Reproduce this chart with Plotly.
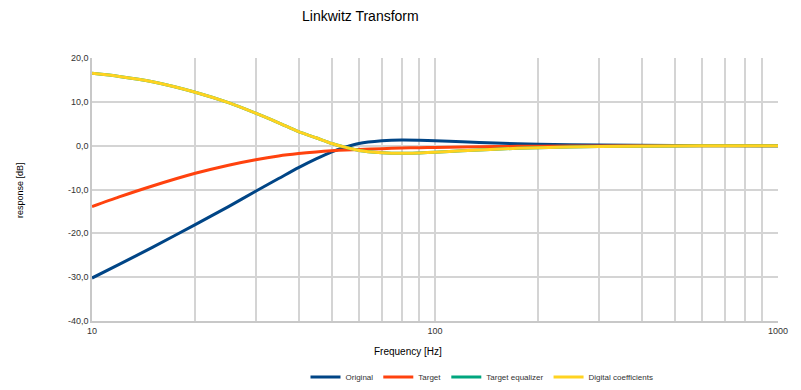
import plotly.graph_objects as go

freq = [10, 12, 15, 20, 25, 30, 35, 40, 45, 50, 55, 60, 70, 80, 90, 100, 120, 150, 200, 300, 500, 700, 1000]
original = [-30.2, -27.1, -23.2, -18.0, -13.9, -10.4, -7.5, -5.0, -3.0, -1.4, -0.3, 0.5, 1.1, 1.3, 1.25, 1.15, 0.9, 0.6, 0.35, 0.15, 0.05, 0.02, 0.0]
target = [-13.9, -11.7, -9.2, -6.3, -4.45, -3.2, -2.35, -1.8, -1.42, -1.15, -0.98, -0.86, -0.68, -0.55, -0.46, -0.4, -0.3, -0.2, -0.12, -0.05, -0.02, -0.01, 0.0]
target_eq = [16.5, 15.8, 14.6, 12.2, 9.8, 7.4, 5.2, 3.2, 1.8, 0.5, -0.4, -1.1, -1.6, -1.75, -1.65, -1.5, -1.15, -0.8, -0.45, -0.2, -0.07, -0.03, 0.0]
digital = [16.5, 15.8, 14.6, 12.2, 9.8, 7.4, 5.2, 3.2, 1.8, 0.5, -0.4, -1.1, -1.6, -1.75, -1.65, -1.5, -1.15, -0.8, -0.45, -0.2, -0.07, -0.03, 0.0]

y_ticks = [-40, -30, -20, -10, 0, 10, 20]
y_labels = ["-40,0", "-30,0", "-20,0", "-10,0", "0,0", "10,0", "20,0"]
x_ticks = [10, 20, 30, 40, 50, 60, 70, 80, 90, 100, 200, 300, 400, 500, 600, 700, 800, 900, 1000]
x_labels = ["10", "", "", "", "", "", "", "", "", "100", "", "", "", "", "", "", "", "", "1000"]

series = [
    ("Original", original, "#004586"),
    ("Target", target, "#ff420e"),
    ("Target equalizer", target_eq, "#00a67e"),
    ("Digital coefficients", digital, "#ffd320"),
]

# page body has an 8px margin; figure placed at (8,8)
OFF = 8
W, H = 801 - OFF, 390 - OFF
pl, pr, pt, pb = 92 - OFF, 23, 58 - OFF, 69
pw, ph = W - pl - pr, H - pt - pb


def px_to_paper(px, py):
    return (px - OFF - pl) / pw, (H - pb - (py - OFF)) / ph


fig = go.Figure()
for name, vals, col in series:
    fig.add_trace(go.Scatter(x=freq, y=vals, name=name, mode="lines",
                             line=dict(color=col, width=3, shape="spline", smoothing=0.7)))

font = "Liberation Sans, Arial, sans-serif"
lx, ly = px_to_paper(482, 377)
anns = []
for text, x, y, size, ang in [("Linkwitz Transform", 360, 16, 14, 0),
                              ("Frequency [Hz]", 408, 351, 10, 0),
                              ("response [dB]", 20, 190, 9, -90)]:
    ax, ay = px_to_paper(x, y)
    anns.append(dict(text=text, x=ax, y=ay, xref="paper", yref="paper",
                     xanchor="center", yanchor="middle", showarrow=False,
                     textangle=ang, font=dict(size=size, color="#000000")))

fig.update_layout(
    width=W, height=H,
    margin=dict(l=pl, r=pr, t=pt, b=pb, autoexpand=False),
    paper_bgcolor="white", plot_bgcolor="white",
    font=dict(family=font, size=9, color="#333333"),
    showlegend=True,
    legend=dict(orientation="h", x=lx, xanchor="center", y=ly, yanchor="middle",
                font=dict(size=8, color="#333333"), itemwidth=30),
    xaxis=dict(type="log", range=[1, 3], tickvals=x_ticks, ticktext=x_labels,
               showgrid=True, gridcolor="#d4d4d4", gridwidth=1.5,
               showline=True, linecolor="#c8c8c8", linewidth=1.5,
               ticks="", tickfont=dict(size=9, color="#333333"), zeroline=False),
    yaxis=dict(range=[-40, 20], tickvals=y_ticks, ticktext=y_labels,
               showgrid=True, gridcolor="#d4d4d4", gridwidth=1.5,
               showline=True, linecolor="#c8c8c8", linewidth=1.5,
               ticks="", tickfont=dict(size=9, color="#333333"), zeroline=False),
    annotations=anns,
)

fig.write_html("out.html")
